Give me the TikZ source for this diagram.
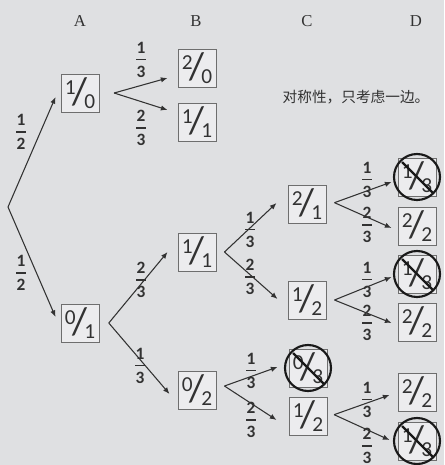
\documentclass[tikz,border=0pt]{standalone}
\usepackage{fontspec}
\setmainfont{Carlito}
\newfontfamily\serifA{Liberation Serif}
\newfontfamily\cjk{Noto Sans CJK SC}
\usetikzlibrary{calc,arrows.meta}
\definecolor{bg}{RGB}{223,224,226}
\definecolor{ink}{RGB}{50,50,50}
\definecolor{boxc}{RGB}{110,110,110}
\newcommand\fr[2]{{\fontsize{16}{16}\selectfont\raisebox{7pt}{#1}}\kern-2.4pt{\fontsize{29}{29}\selectfont/}\kern-2.4pt{\fontsize{16}{16}\selectfont\raisebox{-3.5pt}{#2}}}
\newcommand\ef[2]{\vbox{\offinterlineskip\halign{\hfil##\hfil\cr #1\cr\noalign{\kern4.4pt}\rule{7pt}{0.9pt}\cr\noalign{\kern4.4pt}#2\cr}}}
\tikzset{
  bx/.style={draw=boxc, line width=0.7pt, minimum size=28.5pt, inner sep=0pt, text=ink, fill=bg!60!white},
  arr/.style={draw=ink, line width=0.8pt, -{Latex[length=5pt,width=4pt]}},
  lab/.style={inner sep=0pt, text=ink, font=\bfseries\fontsize{13}{13}\selectfont},
  col/.style={text=ink, font=\serifA\fontsize{12.5}{12.5}\selectfont},
  cross/.style={draw=black!90, line width=1.6pt}
}
\begin{document}
\begin{tikzpicture}[x=0.75pt,y=-0.75pt]
\fill[bg] (0,0) rectangle (444,465);
\useasboundingbox (0,0) rectangle (444,465);
% column labels
\node[col] (hA) at (80,21) {A};
\node[col] (hB) at (196,21) {B};
\node[col] (hC) at (307,21) {C};
\node[col] (hD) at (416,21) {D};
\node[text=ink, font=\cjk\fontsize{11}{11}\selectfont] (note) at (356,97) {对称性，只考虑一边。};
% boxes
\node[bx] (a1) at (80,93) {\fr10};
\node[bx] (a2) at (80,323) {\fr01};
\node[bx] (b1) at (197,68) {\fr20};
\node[bx] (b2) at (197,122) {\fr11};
\node[bx] (b3) at (197,252) {\fr11};
\node[bx] (b4) at (197,390) {\fr02};
\node[bx] (c1) at (307,204) {\fr21};
\node[bx] (c2) at (307,300) {\fr12};
\node[bx] (c3) at (308,368) {\fr03};
\node[bx] (c4) at (308,416) {\fr12};
\node[bx] (d1) at (417,177) {\fr13};
\node[bx] (d2) at (417,226) {\fr22};
\node[bx] (d3) at (417,274) {\fr13};
\node[bx] (d4) at (417,322) {\fr22};
\node[bx] (d5) at (417,392) {\fr22};
\node[bx] (d6) at (417,441) {\fr13};
% crossed marks
\foreach \n in {c3,d1,d3,d6}{
  \draw[cross] (\n.center) circle[radius=23];
  \draw[cross] ($(\n.center)+(-15,-15)$) -- ($(\n.center)+(16,16)$);
}
% fork points
\coordinate (r) at (8,207);
\coordinate (fa1) at ([xshift=11]a1.east);
\coordinate (fa2) at ([xshift=7]a2.east);
\coordinate (fb3) at ([xshift=6]b3.east);
\coordinate (fb4) at ([xshift=6,yshift=3]b4.east);
\coordinate (fc1) at ([xshift=6,yshift=1]c1.east);
\coordinate (fc2) at ([xshift=6]c2.east);
\coordinate (fc4) at ([xshift=5,yshift=1]c4.east);
% arrows
\draw[arr] (r) -- ([shift={(-5,4)}]a1.west);
\draw[arr] (r) -- ([shift={(-5,-6)}]a2.west);
\draw[arr] (fa1) -- ([shift={(-10,10)}]b1.west);
\draw[arr] (fa1) -- ([shift={(-10,-12)}]b2.west);
\draw[arr] (fa2) -- ([shift={(-10,0)}]b3.west);
\draw[arr] (fa2) -- ([shift={(-8,4)}]b4.west);
\draw[arr] (fb3) -- ([shift={(-11,-1)}]c1.west);
\draw[arr] (fb3) -- ([shift={(-10,-1)}]c2.west);
\draw[arr] (fb4) -- ([shift={(-11,-1)}]c3.west);
\draw[arr] (fb4) -- ([shift={(-12,4)}]c4.west);
\draw[arr] (fc1) -- ([shift={(-6,5)}]d1.west);
\draw[arr] (fc1) -- ([shift={(-6,2)}]d2.west);
\draw[arr] (fc2) -- ([shift={(-6,3)}]d3.west);
\draw[arr] (fc2) -- ([shift={(-6,1)}]d4.west);
\draw[arr] (fc4) -- ([shift={(-8,3)}]d5.west);
\draw[arr] (fc4) -- ([shift={(-8,-1)}]d6.west);
% labels
\node[lab] (l1) at (21,132) {\ef12};
\node[lab] (l2) at (21,273) {\ef12};
\node[lab] (l3) at (141,60) {\ef13};
\node[lab] (l4) at (141,128) {\ef23};
\node[lab] (l5) at (141,280) {\ef23};
\node[lab] (l6) at (140,366) {\ef13};
\node[lab] (l7) at (250,230) {\ef13};
\node[lab] (l8) at (250,277) {\ef23};
\node[lab] (l9) at (251,371) {\ef13};
\node[lab] (l10) at (251,420) {\ef23};
\node[lab] (l11) at (367,180) {\ef13};
\node[lab] (l12) at (367,225) {\ef23};
\node[lab] (l13) at (367,280) {\ef13};
\node[lab] (l14) at (367,323) {\ef23};
\node[lab] (l15) at (367,400) {\ef13};
\node[lab] (l16) at (367,446) {\ef23};
\end{tikzpicture}
\end{document}
